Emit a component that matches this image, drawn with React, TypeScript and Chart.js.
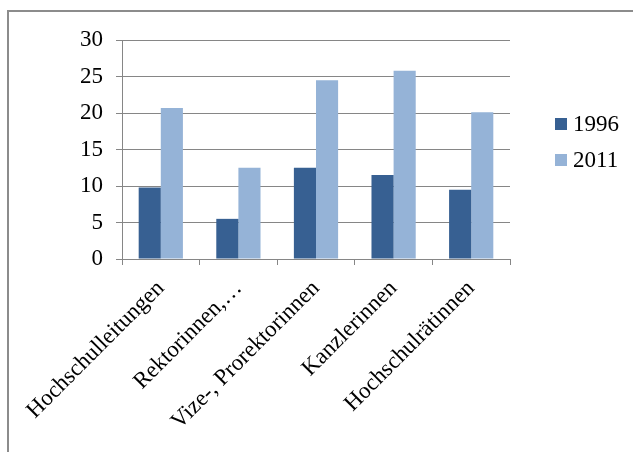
import React, { useEffect, useRef } from "react";
import { Chart, registerables } from "chart.js";

Chart.register(...registerables);

const categories = [
  "Hochschulleitungen",
  "Rektorinnen,…",
  "Vize-, Prorektorinnen",
  "Kanzlerinnen",
  "Hochschulrätinnen",
];
const series1996 = [9.8, 5.5, 12.5, 11.5, 9.5];
const series2011 = [20.7, 12.5, 24.5, 25.8, 20.1];
const seriesLabels = ["1996", "2011"];
const seriesColors = ["#376092", "#95B3D7"];

const FONT = "'Liberation Serif', 'Times New Roman', serif";

export default function App() {
  const ref = useRef<HTMLCanvasElement | null>(null);

  useEffect(() => {
    const canvas = ref.current;
    if (!canvas) return;

    const framePlugin = {
      id: "frame",
      beforeDraw(chart: any) {
        const ctx = chart.ctx;
        ctx.save();
        ctx.fillStyle = "#ffffff";
        ctx.fillRect(0, 0, chart.width, chart.height);
        ctx.fillStyle = "#8c8c8c";
        ctx.fillRect(7, 10, 2, chart.height - 10);
        ctx.fillRect(7, 10, chart.width - 7, 2);
        ctx.restore();
      },
      afterDraw(chart: any) {
        const ctx = chart.ctx;
        ctx.save();
        ctx.font = `23px ${FONT}`;
        ctx.textBaseline = "middle";
        ctx.textAlign = "left";
        const ys = [124, 160];
        seriesLabels.forEach((lab, i) => {
          ctx.fillStyle = seriesColors[i];
          ctx.fillRect(555, ys[i] - 6, 12, 12);
          ctx.fillStyle = "#000000";
          ctx.fillText(lab, 573, ys[i] + 1);
        });
        ctx.restore();
      },
    };

    const chart = new Chart(canvas, {
      type: "bar",
      data: {
        labels: categories,
        datasets: [
          {
            label: seriesLabels[0],
            data: series1996,
            backgroundColor: seriesColors[0],
            categoryPercentage: 0.57,
            barPercentage: 1,
          },
          {
            label: seriesLabels[1],
            data: series2011,
            backgroundColor: seriesColors[1],
            categoryPercentage: 0.57,
            barPercentage: 1,
          },
        ],
      },
      options: {
        responsive: false,
        animation: false,
        layout: { padding: { left: 0, right: 123, top: 40, bottom: 0 } },
        plugins: {
          legend: { display: false },
          tooltip: { enabled: false },
        },
        scales: {
          x: {
            afterFit: (s: any) => {
              s.height = 452 - 259;
            },
            grid: {
              offset: true,
              drawOnChartArea: false,
              drawTicks: true,
              tickLength: 6,
              color: "#868686",
            },
            border: { display: true, color: "#868686", width: 1 },
            ticks: {
              minRotation: 45,
              maxRotation: 45,
              autoSkip: false,
              color: "#000000",
              font: { family: FONT, size: 23 },
              padding: 10,
            },
          },
          y: {
            min: 0,
            max: 30,
            afterFit: (s: any) => {
              s.width = 122;
            },
            grid: {
              color: "#868686",
              lineWidth: 1,
              drawTicks: true,
              tickLength: 6,
            },
            border: { display: true, color: "#868686", width: 1 },
            ticks: {
              stepSize: 5,
              color: "#000000",
              font: { family: FONT, size: 23 },
              padding: 13,
            },
          },
        },
      },
      plugins: [framePlugin],
    });

    return () => chart.destroy();
  }, []);

  return (
    <div style={{ position: "fixed", left: 0, top: 0, width: 633, height: 452 }}>
      <canvas ref={ref} width={633} height={452} style={{ display: "block" }} />
    </div>
  );
}
